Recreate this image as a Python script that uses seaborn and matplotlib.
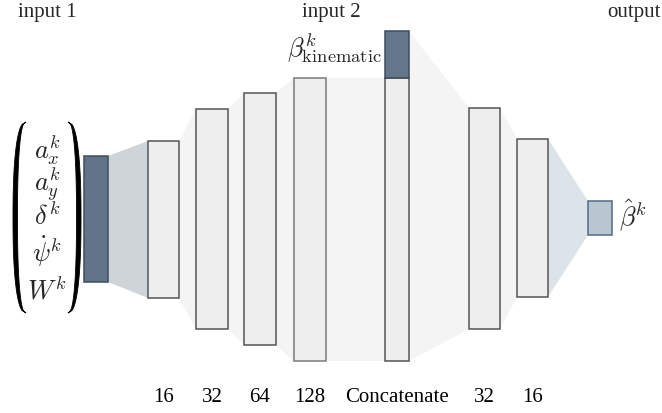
import numpy as np
import matplotlib
matplotlib.use("Agg")
import matplotlib.pyplot as plt
from matplotlib.patches import Polygon
import seaborn as sns

sns.set_theme(style="white")
plt.rcParams['font.family'] = ['Liberation Serif', 'DejaVu Serif']
plt.rcParams['mathtext.fontset'] = 'cm'

# ---- diagram content ----
layer_labels = ["16", "32", "64", "128", "Concatenate", "32", "16"]
input_terms = [r"$a_x^k$", r"$a_y^k$", r"$\delta^k$", r"$\dot{\psi}^k$", r"$W^k$"]
input2_label = r"$\beta^k_{\mathrm{kinematic}}$"
output_label = r"$\hat{\beta}^k$"
header_labels = ["input 1", "input 2", "output"]

# ---- layout (pixel space, y downwards) ----
x_left = [148, 196, 244, 294, 385, 469, 517]
x_right = [179, 228, 276, 326, 409, 500, 548]
tops = [141, 109, 93, 78, 78, 108, 139]
bottoms = [298, 329, 345, 361, 361, 329, 297]
concat_idx = 4
concat_top_dark = 31
in_box = (84, 108, 156, 282)
out_box = (588, 612, 201, 235)

fig = plt.figure(figsize=(6.62, 4.13), dpi=100)
ax = fig.add_axes([0, 0, 1, 1])
ax.set_xlim(0, 662)
ax.set_ylim(413, 0)
ax.axis("off")

blocks = [(in_box[0], in_box[1], in_box[2], in_box[2], in_box[3])]
for i in range(len(x_left)):
    tl = tops[i]
    tr = concat_top_dark if i == concat_idx else tops[i]
    blocks.append((x_left[i], x_right[i], tl, tr, bottoms[i]))
blocks.append((out_box[0], out_box[1], out_box[2], out_box[2], out_box[3]))

for j in range(len(blocks) - 1):
    a, b = blocks[j], blocks[j + 1]
    if j == 0:
        col = "#cfd4d9"
    elif j == len(blocks) - 2:
        col = "#dce3e9"
    else:
        col = "#f4f4f4"
    poly = Polygon([(a[1], a[3]), (b[0], b[2]), (b[0], b[4]), (a[1], a[4])],
                   closed=True, facecolor=col, edgecolor="none", zorder=1)
    ax.add_patch(poly)

centers = [(l + r) / 2 for l, r in zip(x_left, x_right)]
widths = [r - l for l, r in zip(x_left, x_right)]
heights = [b - t for t, b in zip(tops, bottoms)]
edgecols = ["#555555", "#555555", "#555555", "#7a7a7a", "#555555", "#555555", "#555555"]
ax.bar(centers, heights, width=widths, bottom=tops, color="#eeeeee",
       edgecolor=edgecols, linewidth=1.1, zorder=2)

ax.bar([centers[concat_idx]], [tops[concat_idx] - concat_top_dark], width=widths[concat_idx],
       bottom=concat_top_dark, color="#647689", edgecolor="#3e4d5c", linewidth=1.1, zorder=3)

ax.bar([(in_box[0] + in_box[1]) / 2], [in_box[3] - in_box[2]], width=in_box[1] - in_box[0],
       bottom=in_box[2], color="#627487", edgecolor="#3e4d5c", linewidth=1.1, zorder=2)
ax.bar([(out_box[0] + out_box[1]) / 2], [out_box[3] - out_box[2]], width=out_box[1] - out_box[0],
       bottom=out_box[2], color="#b8c6d2", edgecolor="#4f6b85", linewidth=1.1, zorder=2)

for c, lab in zip(centers, layer_labels):
    ax.text(c, 397, lab, ha="center", va="center", fontsize=15, color="black",
            family="Liberation Serif")

ax.text(47, 12, header_labels[0], ha="center", va="center", fontsize=15, family="Liberation Serif")
ax.text(331, 12, header_labels[1], ha="center", va="center", fontsize=15, family="Liberation Serif")
ax.text(661, 12, header_labels[2], ha="right", va="center", fontsize=15, family="Liberation Serif")

ax.text(382, 48, input2_label, ha="right", va="center", fontsize=19)
ax.text(619, 216, output_label, ha="left", va="center", fontsize=19)

ys = [150, 184, 216, 252, 290]
for y, t in zip(ys, input_terms):
    ax.text(47, y, t, ha="center", va="center", fontsize=19)

def paren(x_end, top, bot, bulge_out, bulge_in, direction):
    t = np.linspace(0, 1, 80)
    s = 2 * t - 1
    p = 2.4
    shape = (1 - np.abs(s) ** p) ** (1 / p)
    y = top + (bot - top) * t
    xo = x_end + direction * bulge_out * shape
    xi = x_end + direction * bulge_in * shape
    pts = np.concatenate([np.column_stack([xo, y]), np.column_stack([xi, y])[::-1]])
    ax.add_patch(Polygon(pts, closed=True, facecolor="black", edgecolor="black",
                         linewidth=0.6, zorder=4))

paren(26, 122, 313, 13, 8.5, -1)
paren(68, 122, 313, 13, 8.5, +1)

fig.savefig("out.png", dpi=100)
